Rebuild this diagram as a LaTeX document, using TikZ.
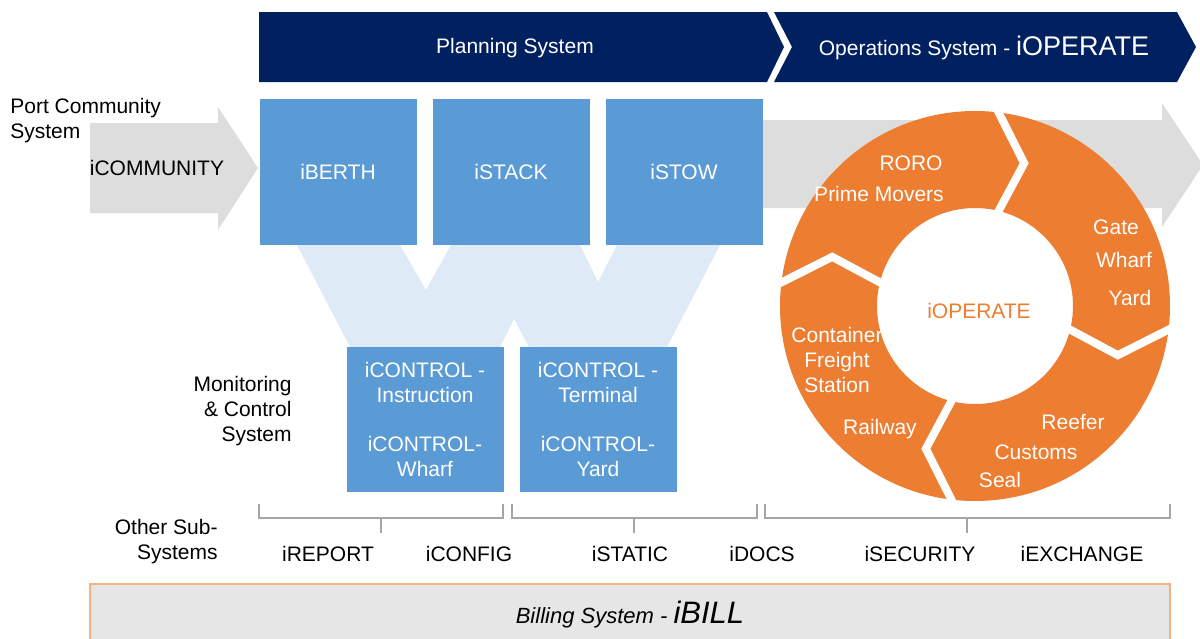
\documentclass[tikz,border=0pt]{standalone}
\usepackage{fontspec}
\setmainfont{Liberation Sans}
\definecolor{navy}{HTML}{002060}
\definecolor{blockblue}{HTML}{5B9BD5}
\definecolor{paleblue}{HTML}{DEEBF7}
\definecolor{arrowgray}{HTML}{DDDDDD}
\definecolor{ringorange}{HTML}{ED7D31}
\definecolor{billgray}{HTML}{E7E6E6}
\definecolor{billedge}{HTML}{F4B183}
\definecolor{brackgray}{HTML}{A6A6A6}
\begin{document}
\begin{tikzpicture}[x=0.5pt, y=-0.5pt,
  every node/.style={inner sep=0pt, font=\fontsize{10.5}{12.5}\selectfont},
  blk/.style={fill=blockblue, text=white, align=center, anchor=center, minimum width=78.5pt, minimum height=73pt},
  ctl/.style={blk, minimum height=72.5pt},
  ringtxt/.style={text=white},
  gapline/.style={draw=white, line width=4pt},
  brk/.style={draw=brackgray, line width=0.6pt}]
  \useasboundingbox (0,0) rectangle (1200,638);
  % banners
  \fill[navy] (259,12) -- (767,12) -- (784,47) -- (767,82) -- (259,82) -- cycle;
  \fill[navy] (774,12) -- (1177,12) -- (1196,47) -- (1177,82) -- (774,82) -- (792,47) -- cycle;
  \node[text=white] (plansys) at (515,48) {Planning System};
  \node[text=white] (opsys) at (984,48) {Operations System - {\fontsize{13.5}{16}\selectfont iOPERATE}};
  % gray arrows
  \fill[arrowgray] (90,123) -- (218,123) -- (218,107) -- (258,168) -- (218,230) -- (218,213) -- (90,213) -- cycle;
  \fill[arrowgray] (700,120) -- (1162,120) -- (1162,103) -- (1203,165) -- (1162,227) -- (1162,208) -- (700,208) -- cycle;
  \node (icomm) at (157,168) {iCOMMUNITY};
  \node[align=left, anchor=west] (pcs) at (10,121) {Port Community\\System};
  % the W behind the blocks
  \fill[paleblue] (297,245) -- (400,245) -- (426,290) -- (451,245) -- (580,245) -- (598,282) -- (617,245)
    -- (720,245) -- (667,347) -- (529,347) -- (514,319) -- (500,347) -- (350,347) -- cycle;
  \matrix (plan) at (511,172) [column sep=8pt, nodes={blk}]
  {
    \node (berth) {iBERTH}; & \node (stack) {iSTACK}; & \node (stow) {iSTOW};\\
  };
  \matrix (ctrl) at (511.5,419.5) [column sep=8pt, nodes={ctl}]
  {
    \node (ctlins) {iCONTROL -\\Instruction\\[12pt]iCONTROL-\\Wharf}; & \node (ctlterm) {iCONTROL -\\Terminal\\[12pt]iCONTROL-\\Yard};\\
  };
  \node[align=right, anchor=east] (mcs) at (292,411) {Monitoring\\\& Control\\System};
  % ring
  \fill[ringorange, even odd rule] (975,306) circle[radius=97.5pt] (975,306) circle[radius=49pt];
  \begin{scope}[shift={(975,306)}]
    \foreach \g in {71,-19,-109,161}
      \draw[gapline] (\g+13:100pt) -- (\g:75.5pt) -- (\g+6:46pt);
  \end{scope}
  \node[text=ringorange] (iop) at (979,311) {iOPERATE};
  \node[ringtxt] (roro) at (911,163) {RORO};
  \node[ringtxt] (prime) at (879,194) {Prime Movers};
  \node[ringtxt] (gate) at (1116,227) {Gate};
  \node[ringtxt] (wharf) at (1124,260) {Wharf};
  \node[ringtxt] (yard) at (1130,298) {Yard};
  \node[ringtxt, align=center] (cfs) at (837,360) {Container\\Freight\\Station};
  \node[ringtxt] (rail) at (880,429) {Railway};
  \node[ringtxt] (reefer) at (1073,422) {Reefer};
  \node[ringtxt] (customs) at (1036,452) {Customs};
  \node[ringtxt] (seal) at (1000,480) {Seal};
  % other sub-systems
  \foreach \l/\r/\m in {259/503/381, 512/757/634, 765/1170/967}
  {
    \draw[brk] (\l,504) |- (\r,518) -- (\r,504);
    \draw[brk] (\m,518) -- (\m,533);
  }
  \node[align=right, anchor=east] (osub) at (218,542) {Other Sub-\\Systems};
  \foreach \x/\t in {328/iREPORT, 469/iCONFIG, 630/iSTATIC, 762/iDOCS, 920/iSECURITY, 1082/iEXCHANGE}
    \node (\t) at (\x,554) {\t};
  % billing
  \draw[fill=billgray, draw=billedge, line width=0.6pt] (90,584) rectangle (1170,660);
  \node (bill) at (630,615) {\itshape\fontsize{11}{13}\selectfont Billing System - {\fontsize{15.5}{18}\selectfont iBILL}};
\end{tikzpicture}
\end{document}
